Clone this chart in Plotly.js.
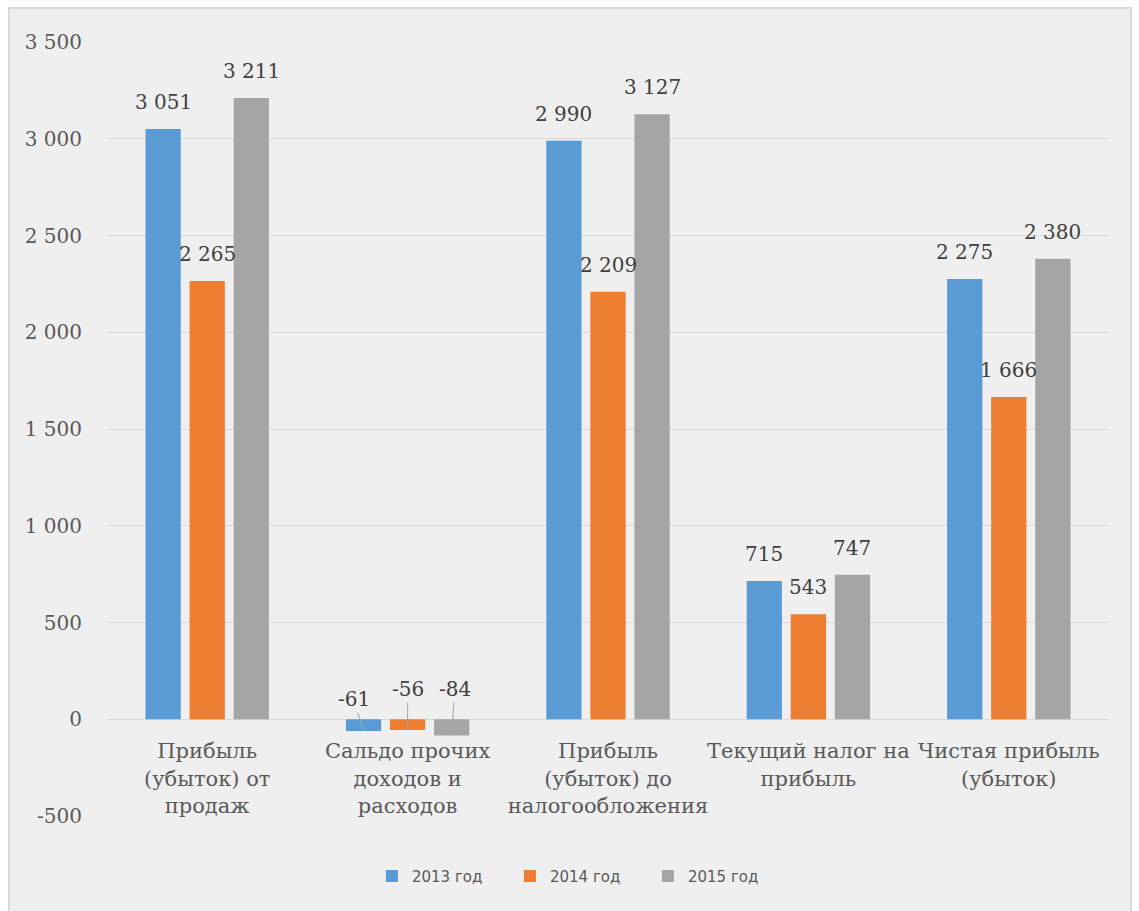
<!DOCTYPE html>
<html>
<head>
<meta charset="utf-8">
<script src="https://cdn.plot.ly/plotly-3.0.1.min.js"></script>
<style>
html,body{margin:0;padding:0;background:#ffffff;width:1139px;height:911px;overflow:hidden;}
#frame{position:absolute;left:8px;top:7px;width:1124px;height:910px;border:2px solid #d9d9d9;background:#efefef;box-sizing:border-box;}
#chart{position:absolute;left:0;top:0;width:1120px;height:906px;}
</style>
</head>
<body>
<div id="frame"><div id="chart"></div></div>
<script>
const categories = [
  "Прибыль<br>(убыток) от<br>продаж",
  "Сальдо прочих<br>доходов и<br>расходов",
  "Прибыль<br>(убыток) до<br>налогообложения",
  "Текущий налог на<br>прибыль",
  "Чистая прибыль<br>(убыток)"
];
const seriesNames = ["2013 год", "2014 год", "2015 год"];
const values2013 = [3051, -61, 2990, 715, 2275];
const values2014 = [2265, -56, 2209, 543, 1666];
const values2015 = [3211, -84, 3127, 747, 2380];
const tickValues = [-500, 0, 500, 1000, 1500, 2000, 2500, 3000, 3500];
const tickLabels = ["-500", "0", "500", "1 000", "1 500", "2 000", "2 500", "3 000", "3 500"];

const allSeries = [values2013, values2014, values2015];
const colors = ["#5b9bd5", "#ed7d31", "#a5a5a5"];
const slot = 0.22;
const negOffsets = [[-10, -32], [0, -41], [3, -47]];
const SERIF = "DejaVu Serif";

function fmt(v){
  const s = Math.abs(v).toString();
  const out = s.replace(/\B(?=(\d{3})+(?!\d))/g, " ");
  return (v < 0 ? "-" : "") + out;
}

const traces = allSeries.map((vals, j) => ({
  type: "bar",
  name: seriesNames[j],
  x: categories,
  y: vals,
  marker: {color: colors[j]},
  hoverinfo: "skip"
}));

const annotations = [];
allSeries.forEach((vals, j) => {
  vals.forEach((v, i) => {
    const xPos = i + (j - 1) * slot;
    if (v >= 0) {
      annotations.push({
        x: xPos, y: v, xref: "x", yref: "y",
        text: fmt(v), showarrow: false,
        yanchor: "middle", yshift: 27,
        font: {family: SERIF, size: 20, color: "#404040"}
      });
    } else {
      annotations.push({
        x: xPos, y: v, xref: "x", yref: "y",
        text: fmt(v), showarrow: true,
        arrowhead: 0, arrowwidth: 1, arrowcolor: "#a6a6a6", standoff: 0,
        ax: negOffsets[j][0], ay: negOffsets[j][1],
        font: {family: SERIF, size: 20, color: "#404040"}
      });
    }
  });
});

const layout = {
  width: 1120, height: 906,
  paper_bgcolor: "#efefef",
  plot_bgcolor: "#efefef",
  margin: {l: 97, r: 21, t: 33, b: 99},
  barmode: "group",
  bargap: 0.34,
  bargroupgap: 0.2,
  showlegend: true,
  legend: {
    orientation: "h", x: 0.471, xanchor: "center", y: -0.078, yanchor: "middle",
    font: {family: "DejaVu Sans", size: 15, color: "#595959"},
    entrywidth: 93, entrywidthmode: "pixels",
    bgcolor: "rgba(0,0,0,0)"
  },
  xaxis: {
    type: "category",
    anchor: "free",
    position: 0.125,
    showline: false,
    showgrid: false,
    ticks: "outside", ticklen: 13, tickcolor: "rgba(0,0,0,0)",
    tickfont: {family: SERIF, size: 21, color: "#595959"},
    tickangle: 0
  },
  yaxis: {
    range: [-500, 3500],
    tickvals: tickValues,
    ticktext: tickLabels,
    showgrid: true, gridcolor: "#d9d9d9", gridwidth: 1,
    zeroline: true, zerolinecolor: "#d9d9d9", zerolinewidth: 1,
    showline: false,
    ticks: "outside", ticklen: 20, tickcolor: "rgba(0,0,0,0)",
    tickfont: {family: SERIF, size: 20, color: "#595959"}
  },
  annotations: annotations,
  font: {family: SERIF, color: "#595959"}
};

Plotly.newPlot("chart", traces, layout, {displayModeBar: false, staticPlot: true});
</script>
</body>
</html>
